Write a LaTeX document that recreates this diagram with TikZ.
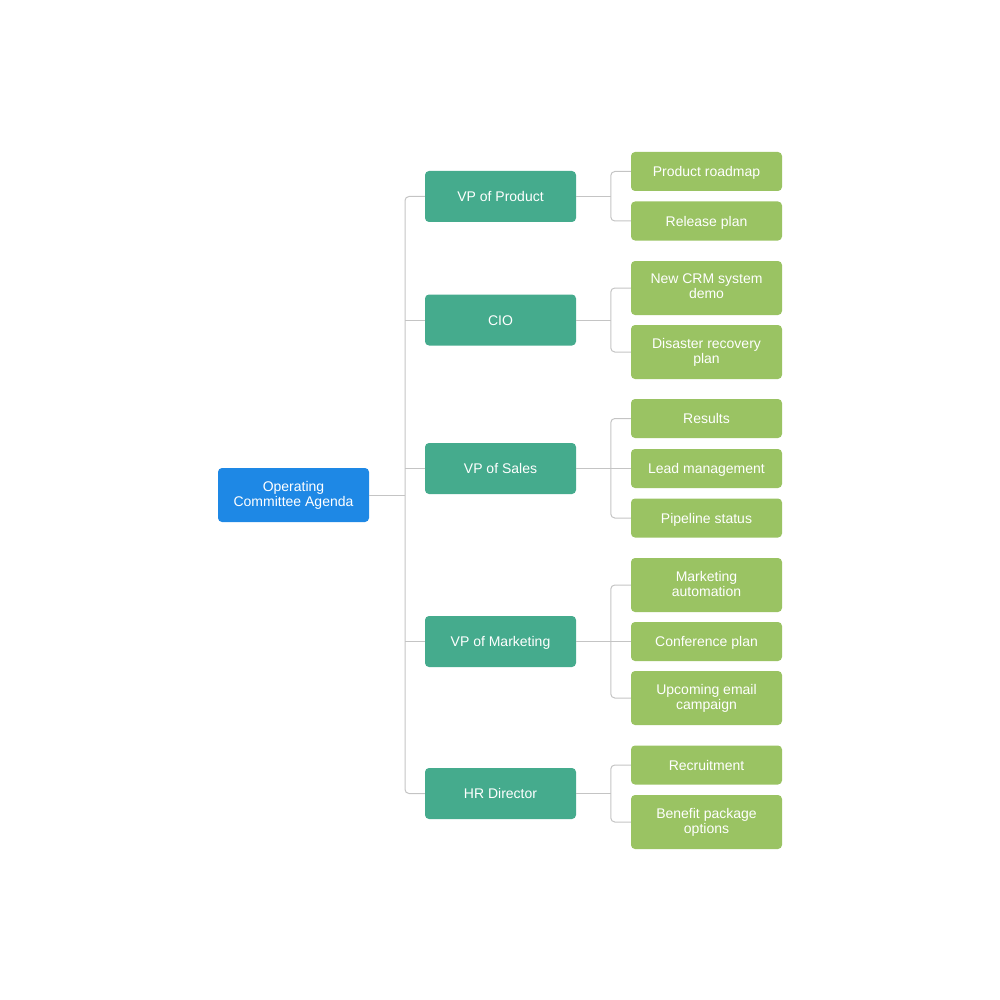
\documentclass[tikz,border=0pt]{standalone}
\usepackage{fontspec}
\setmainfont{Liberation Sans}
\usetikzlibrary{positioning}

\definecolor{agendablue}{HTML}{1E88E5}
\definecolor{headteal}{HTML}{45AB8D}
\definecolor{topicgreen}{HTML}{9AC363}
\definecolor{linkgray}{HTML}{C4C4C4}

\newcommand{\boxstrut}{\rule[-3pt]{0pt}{16pt}}

\tikzset{
    box/.style={rounded corners=4pt, text=white, align=center, inner sep=0pt,
        minimum width=151pt, font=\fontsize{14}{15}\selectfont,
        execute at begin node=\boxstrut, execute at end node=\boxstrut},
    agenda/.style={box, fill=agendablue, minimum height=54pt},
    head/.style={box, fill=headteal, minimum height=51pt},
    topic/.style={box, fill=topicgreen, minimum height=39pt},
    topictall/.style={box, fill=topicgreen, minimum height=54pt},
    link/.style={linkgray, line width=1pt, rounded corners=4pt}
}

\begin{document}
\begin{tikzpicture}[x=1pt, y=-1pt]
    \useasboundingbox (0,0) rectangle (1000,1000);

    % root
    \node[agenda] (agenda) at (293.5,495) {Operating\\Committee Agenda};

    % heads
    \node[head] (product) at (500.5,196.5) {VP of Product};
    \node[head] (cio) at (500.5,320) {CIO};
    \node[head] (sales) at (500.5,468.5) {VP of Sales};
    \node[head] (marketing) at (500.5,641.5) {VP of Marketing};
    \node[head] (hr) at (500.5,793.5) {HR Director};

    % topics
    \node[topic] (roadmap) at (706.5,171.5) {Product roadmap};
    \node[topic] (release) at (706.5,221) {Release plan};
    \node[topictall] (crm) at (706.5,288) {New CRM system\\demo};
    \node[topictall] (disaster) at (706.5,352) {Disaster recovery\\plan};
    \node[topic] (results) at (706.5,418.5) {Results};
    \node[topic] (lead) at (706.5,468.5) {Lead management};
    \node[topic] (pipeline) at (706.5,518) {Pipeline status};
    \node[topictall] (automation) at (706.5,585) {Marketing\\automation};
    \node[topic] (conference) at (706.5,641.5) {Conference plan};
    \node[topictall] (campaign) at (706.5,698) {Upcoming email\\campaign};
    \node[topic] (recruit) at (706.5,765) {Recruitment};
    \node[topictall] (benefit) at (706.5,822) {Benefit package\\options};

    % root to heads
    \coordinate (trunk) at (405,495);
    \draw[link] (product.west) -| (trunk) |- (hr.west);
    \draw[link] (agenda.east) -- (trunk);
    \draw[link] (cio.west) -- (cio.west -| trunk);
    \draw[link] (sales.west) -- (sales.west -| trunk);
    \draw[link] (marketing.west) -- (marketing.west -| trunk);

    % heads to topics
    \draw[link] (roadmap.west) -- ++(-20,0) |- (release.west);
    \draw[link] (product.east) -- ++(35,0);
    \draw[link] (crm.west) -- ++(-20,0) |- (disaster.west);
    \draw[link] (cio.east) -- ++(35,0);
    \draw[link] (results.west) -- ++(-20,0) |- (pipeline.west);
    \draw[link] (sales.east) -- (lead.west);
    \draw[link] (automation.west) -- ++(-20,0) |- (campaign.west);
    \draw[link] (marketing.east) -- (conference.west);
    \draw[link] (recruit.west) -- ++(-20,0) |- (benefit.west);
    \draw[link] (hr.east) -- ++(35,0);
\end{tikzpicture}
\end{document}
